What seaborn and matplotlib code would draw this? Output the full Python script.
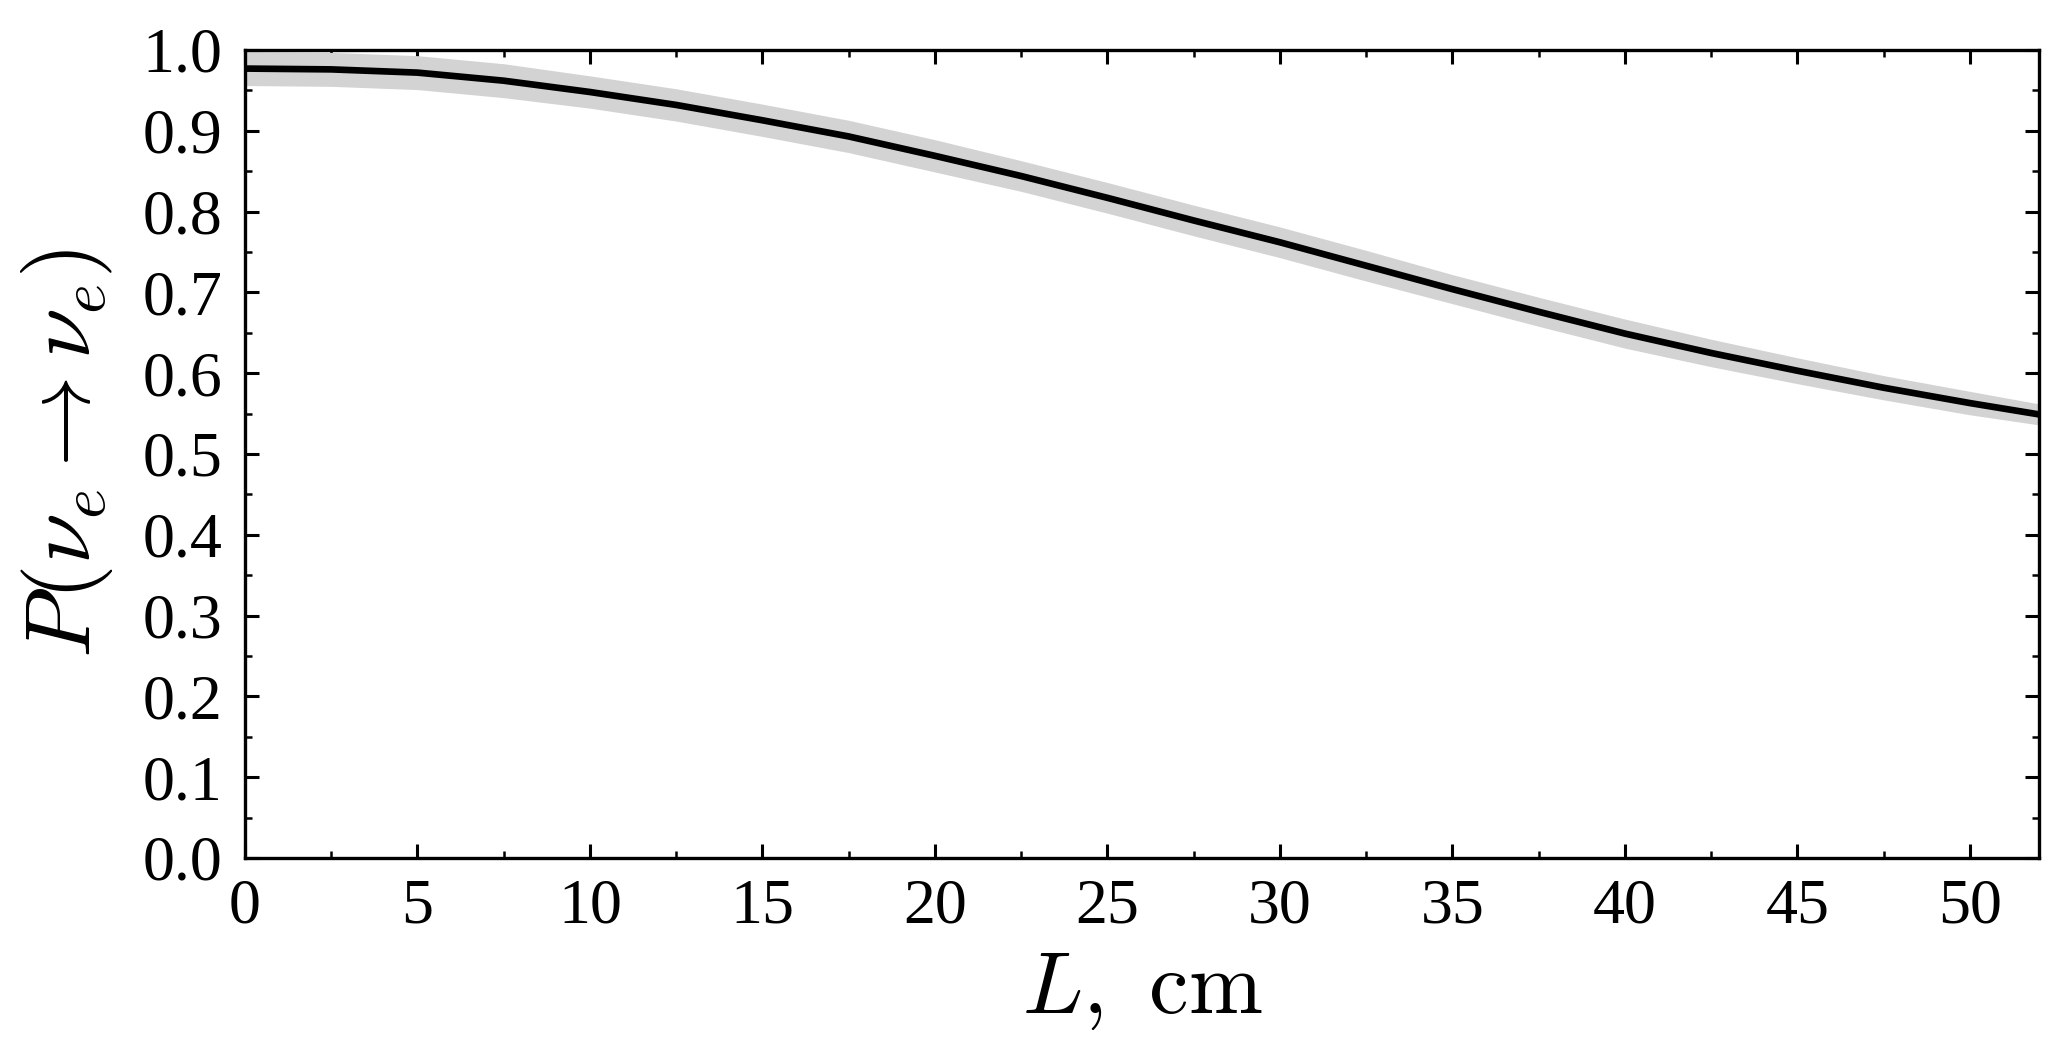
import numpy as np
import matplotlib
matplotlib.use("Agg")
import matplotlib.pyplot as plt
from matplotlib.ticker import MultipleLocator
import seaborn as sns

# Survival probability
L_cm = [0, 2.5, 5, 7.5, 10, 12.5, 15, 17.5, 20, 22.5, 25,
        27.5, 30, 32.5, 35, 37.5, 40, 42.5, 45, 47.5, 50, 52]
P_ee = [0.977, 0.976, 0.972, 0.962, 0.948, 0.932, 0.913, 0.893, 0.869, 0.844, 0.817,
        0.789, 0.762, 0.733, 0.704, 0.676, 0.649, 0.625, 0.603, 0.582, 0.563, 0.549]
# half width of the grey band
P_err = [0.021, 0.021, 0.021, 0.021, 0.020, 0.020, 0.020, 0.020, 0.020, 0.019, 0.019,
         0.019, 0.019, 0.019, 0.018, 0.018, 0.018, 0.017, 0.016, 0.015, 0.0145, 0.013]

x_ticks = [0, 5, 10, 15, 20, 25, 30, 35, 40, 45, 50]
y_ticks = [0.0, 0.1, 0.2, 0.3, 0.4, 0.5, 0.6, 0.7, 0.8, 0.9, 1.0]

sns.set_style("ticks")
plt.rcParams['font.family'] = ['Liberation Serif', 'DejaVu Serif']
plt.rcParams['mathtext.fontset'] = 'cm'
plt.rcParams['text.color'] = 'black'
plt.rcParams['axes.labelcolor'] = 'black'

fig = plt.figure(figsize=(20.65, 10.48), dpi=100)
ax = fig.add_axes([0.1186, 0.1813, 0.8688, 0.771])

lo = np.array(P_ee) - np.array(P_err)
hi = np.array(P_ee) + np.array(P_err)
ax.fill_between(L_cm, lo, hi, color='#d3d3d3', lw=0)
sns.lineplot(x=L_cm, y=P_ee, color='black', lw=4.8, ax=ax)

ax.set_xlim(0, 52)
ax.set_ylim(0, 1)
ax.set_xticks(x_ticks)
ax.set_yticks(y_ticks)
ax.set_yticklabels([f"{v:.1f}" for v in y_ticks])
ax.xaxis.set_minor_locator(MultipleLocator(2.5))
ax.yaxis.set_minor_locator(MultipleLocator(0.05))

ax.tick_params(which='both', direction='in', top=True, right=True,
               colors='black', labelcolor='black')
ax.tick_params(which='major', length=10, width=2.2, labelsize=46)
ax.tick_params(which='minor', length=5, width=1.8)
ax.tick_params(axis='y', which='major', pad=16)
ax.tick_params(axis='x', which='major', pad=15)
for s in ax.spines.values():
    s.set_linewidth(2.4)
    s.set_color('black')

ax.set_xlabel(r'$L,\ \mathrm{cm}$', fontsize=64, labelpad=10)
ax.set_ylabel(r'$P(\nu_e \to \nu_e)$', fontsize=66, labelpad=20)

fig.savefig("out.png", dpi=100)
